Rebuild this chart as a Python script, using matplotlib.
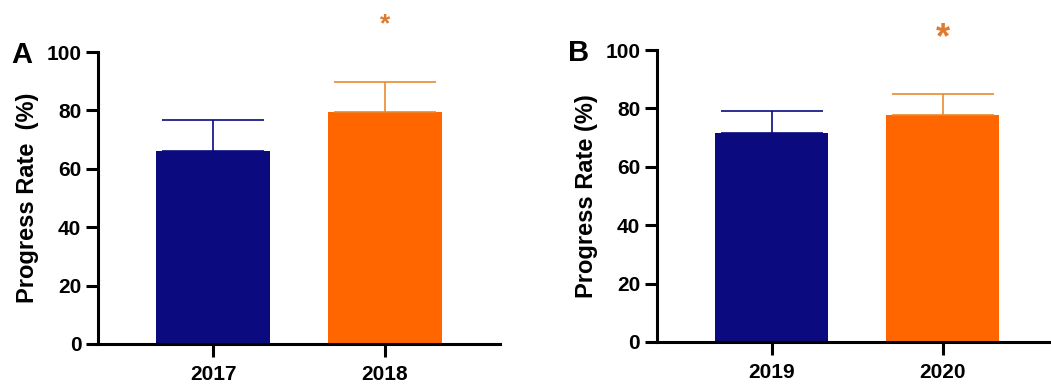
import matplotlib
matplotlib.use("Agg")
import matplotlib.pyplot as plt

# данные
years_a = ["2017", "2018"]
rate_a = [66.1, 79.5]
err_a = [10.6, 10.2]

years_b = ["2019", "2020"]
rate_b = [71.7, 77.7]
err_b = [7.4, 7.2]

bar_colors = ["#0b0a7e", "#ff6600"]
err_colors = ["#0b0a7e", "#e88a2e"]
star_color = "#e07a2c"

plt.rcParams['font.family'] = ['Liberation Sans', 'DejaVu Sans']
plt.rcParams['font.weight'] = 'bold'

fig = plt.figure(figsize=(10.51, 3.85), dpi=100)
ax_a = fig.add_axes([0.0932, 0.1065, 0.3825, 0.7584])
ax_b = fig.add_axes([0.625, 0.1117, 0.375, 0.7584])


def draw_panel(ax, years, rates, errs, ylabel, xlim, star_y, star_size):
    x = list(range(len(years)))
    ax.bar(x, rates, width=0.66, color=bar_colors, zorder=2)
    for i in x:
        ax.errorbar(x[i], rates[i], yerr=[[0], [errs[i]]], fmt='none',
                    ecolor=err_colors[i], elinewidth=1.2, capsize=37,
                    capthick=1.2, clip_on=False, zorder=3)
    # звездочка над вторым столбцом
    ax.text(x[1], star_y, "*", color=star_color, fontsize=star_size,
            ha='center', va='center', clip_on=False)
    ax.set_ylim(0, 100)
    ax.set_xlim(*xlim)
    ax.set_yticks([0, 20, 40, 60, 80, 100])
    ax.set_xticks(x)
    ax.set_xticklabels(years)
    ax.set_ylabel(ylabel, fontsize=17, fontweight='bold', labelpad=5)
    for s in ['top', 'right']:
        ax.spines[s].set_visible(False)
    for s in ['left', 'bottom']:
        ax.spines[s].set_linewidth(2.2)
    ax.tick_params(axis='both', width=2.2, length=9, labelsize=15, pad=3)
    ax.tick_params(axis='x', pad=6)
    for lab in ax.get_xticklabels() + ax.get_yticklabels():
        lab.set_fontweight('bold')


draw_panel(ax_a, years_a, rate_a, err_a, "Progress Rate  (%)", (-0.669, 1.668), 109.5, 19)
draw_panel(ax_b, years_b, rate_b, err_b, "Progress Rate (%)", (-0.672, 1.632), 104.0, 26)

fig.text(0.011, 0.857, "A", fontsize=21, fontweight='bold', va='center')
fig.text(0.540, 0.862, "B", fontsize=21, fontweight='bold', va='center')

plt.savefig("out.png", dpi=100)
